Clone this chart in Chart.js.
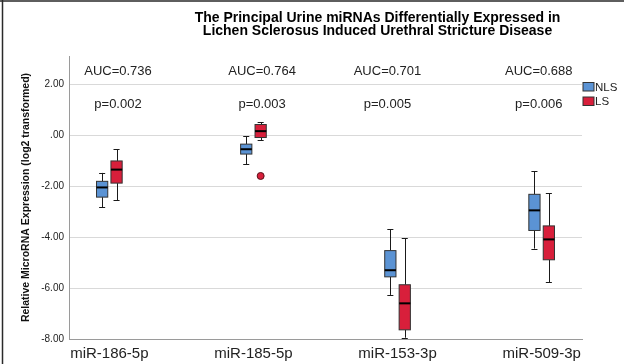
<!DOCTYPE html>
<html>
<head>
<meta charset="utf-8">
<script src="https://cdn.jsdelivr.net/npm/chart.js@4/dist/chart.umd.min.js"></script>
<style>
  html, body { margin: 0; padding: 0; background: #fff; }
  #wrap { position: relative; width: 624px; height: 364px; }
</style>
</head>
<body>
<div id="wrap"><canvas id="c" width="624" height="364"></canvas></div>
<script>
// miRNA categories along the x axis
const categories = ['miR-186-5p', 'miR-185-5p', 'miR-153-3p', 'miR-509-3p'];

// Box statistics per category: [min, Q1, median, Q3, max]
const nlsStats = [
  [-2.82, -2.43, -2.05, -1.81, -1.48],
  [-1.13, -0.74, -0.55, -0.35, -0.04],
  [-6.27, -5.56, -5.30, -4.53, -3.70],
  [-4.45, -3.74, -2.95, -2.32, -1.42]
];
const lsStats = [
  [-2.56, -1.88, -1.35, -1.01, -0.56],
  [-0.20, -0.09, 0.16, 0.42, 0.51],
  [-7.95, -7.64, -6.60, -5.87, -4.04],
  [-5.78, -4.89, -4.09, -3.56, -2.28]
];

// Outlying cases per category
const nlsOutliers = [[], [], [], []];
const lsOutliers = [[], [-1.60], [], []];

// Annotation text per category
const aucLabels = ['AUC=0.736', 'AUC=0.764', 'AUC=0.701', 'AUC=0.688'];
const pLabels = ['p=0.002', 'p=0.003', 'p=0.005', 'p=0.006'];

// Value axis ticks
const yTicks = [-8, -6, -4, -2, 0, 2];

const FONT = "'Liberation Sans', Arial, Helvetica, sans-serif";
const series = [
  { label: 'NLS', stats: nlsStats, outliers: nlsOutliers, fill: '#5b93d4', offset: -0.05 },
  { label: 'LS',  stats: lsStats,  outliers: lsOutliers,  fill: '#d81f3b', offset: 0.05 }
];

function outlierPoints(s) {
  const pts = [];
  s.outliers.forEach((vals, i) => vals.forEach(v => pts.push({ x: i + s.offset, y: v })));
  return pts;
}

const boxPlugin = {
  id: 'boxes',
  beforeDatasetsDraw(chart, args, opts) {
    const { ctx, scales: { x, y } } = chart;
    const unit = x.getPixelForValue(1) - x.getPixelForValue(0);
    const half = opts.boxWidth * unit / 2;
    const cap = opts.capWidth * unit / 2;
    ctx.save();
    series.forEach(s => {
      s.stats.forEach((st, i) => {
        const cx = x.getPixelForValue(i + s.offset);
        const [mn, q1, md, q3, mx] = st.map(v => y.getPixelForValue(v));
        // whiskers
        ctx.strokeStyle = '#1a1a1a';
        ctx.lineWidth = 1;
        ctx.beginPath();
        ctx.moveTo(Math.round(cx) + 0.5, q3); ctx.lineTo(Math.round(cx) + 0.5, mx);
        ctx.moveTo(Math.round(cx) + 0.5, q1); ctx.lineTo(Math.round(cx) + 0.5, mn);
        ctx.moveTo(cx - cap, Math.round(mx) + 0.5); ctx.lineTo(cx + cap, Math.round(mx) + 0.5);
        ctx.moveTo(cx - cap, Math.round(mn) + 0.5); ctx.lineTo(cx + cap, Math.round(mn) + 0.5);
        ctx.stroke();
        // box
        ctx.fillStyle = s.fill;
        ctx.fillRect(cx - half, q3, half * 2, q1 - q3);
        ctx.strokeStyle = '#333';
        ctx.strokeRect(cx - half, q3, half * 2, q1 - q3);
        // median
        ctx.strokeStyle = '#000';
        ctx.lineWidth = 2;
        ctx.beginPath();
        ctx.moveTo(cx - half, md); ctx.lineTo(cx + half, md);
        ctx.stroke();
      });
    });
    ctx.restore();
  },
  afterDraw(chart, args, opts) {
    const { ctx, scales: { x, y } } = chart;
    ctx.save();
    // statistics annotations
    ctx.fillStyle = '#222';
    ctx.font = '13px ' + FONT;
    ctx.textAlign = 'center';
    ctx.textBaseline = 'middle';
    aucLabels.forEach((t, i) => {
      ctx.fillText(t, x.getPixelForValue(opts.labelX[i]), y.getPixelForValue(opts.aucY));
      ctx.fillText(pLabels[i], x.getPixelForValue(opts.labelX[i]), y.getPixelForValue(opts.pY));
    });
    // title
    ctx.fillStyle = '#000';
    ctx.font = 'bold 14px ' + FONT;
    ctx.fillText('The Principal Urine miRNAs Differentially Expressed in', 377.5, 18);
    ctx.fillText('Lichen Sclerosus Induced Urethral Stricture Disease', 377.5, 31);
    // legend
    ctx.textAlign = 'left';
    ctx.font = '11.5px ' + FONT;
    series.forEach((s, k) => {
      const ly = 82.5 + k * 14.5;
      ctx.fillStyle = s.fill;
      ctx.fillRect(583, ly, 11, 8.5);
      ctx.strokeStyle = '#333';
      ctx.lineWidth = 1;
      ctx.strokeRect(583, ly, 11, 8.5);
      ctx.fillStyle = '#222';
      ctx.fillText(s.label, 595, ly + 5);
    });
    // frame edges
    ctx.strokeStyle = '#2a2a2a';
    ctx.lineWidth = 1.5;
    ctx.beginPath();
    ctx.moveTo(0, 1); ctx.lineTo(624, 1);
    ctx.moveTo(2.5, 0); ctx.lineTo(2.5, 364);
    ctx.stroke();
    ctx.restore();
  }
};

new Chart(document.getElementById('c'), {
  type: 'scatter',
  data: {
    datasets: series.map(s => ({
      label: s.label,
      data: outlierPoints(s),
      pointRadius: 3.5,
      pointBackgroundColor: s.fill,
      pointBorderColor: '#5a1018',
      pointBorderWidth: 1
    }))
  },
  plugins: [boxPlugin],
  options: {
    responsive: false,
    animation: false,
    devicePixelRatio: 1,
    layout: { padding: { left: 0, top: 56, right: 42, bottom: 0 } },
    plugins: {
      legend: { display: false },
      title: { display: false },
      tooltip: { enabled: false },
      boxes: {
        boxWidth: 0.078,
        capWidth: 0.042,
        labelX: [0.06, 1.06, 1.93, 2.98],
        aucY: 2.52,
        pY: 1.22
      }
    },
    scales: {
      x: {
        type: 'linear',
        min: -0.28,
        max: 3.28,
        afterBuildTicks(scale) { scale.ticks = categories.map((_, i) => ({ value: i })); },
        afterFit(scale) { scale.height = 25; },
        grid: { color: 'rgba(0,0,0,0)', drawTicks: false },
        border: { color: '#9a9a9a', width: 1 },
        ticks: {
          padding: 6,
          color: '#222',
          font: { family: FONT, size: 15 },
          autoSkip: false,
          maxRotation: 0,
          callback: v => categories[v]
        }
      },
      y: {
        min: -8,
        max: 3.11,
        afterBuildTicks(scale) { scale.ticks = yTicks.map(v => ({ value: v })); },
        afterFit(scale) { scale.width = 69; },
        grid: { color: '#d9d9d9', drawTicks: false },
        border: { color: '#9a9a9a', width: 1 },
        ticks: {
          padding: 5,
          color: '#222',
          font: { family: FONT, size: 10 },
          callback: v => v === 0 ? '.00' : v.toFixed(2)
        },
        title: {
          display: true,
          text: 'Relative MicroRNA Expression (log2 transformed)',
          color: '#111',
          font: { family: FONT, size: 10.5, weight: 'bold' },
          padding: { top: 20, bottom: 0 }
        }
      }
    }
  }
});
</script>
</body>
</html>
